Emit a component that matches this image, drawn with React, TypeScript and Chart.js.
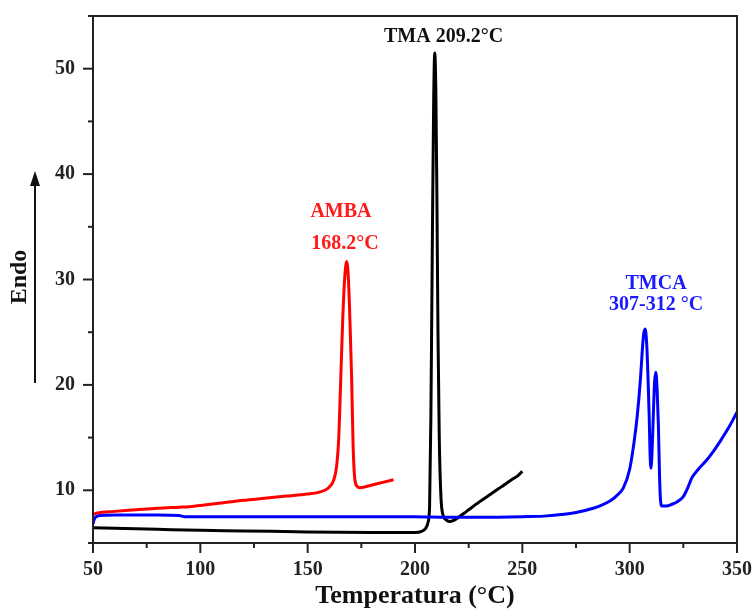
import { useEffect, useRef } from 'react';
import { Chart, registerables } from 'chart.js';

Chart.register(...registerables);

// TMA (black)
const tmaT = [50, 60, 80, 100, 120, 150, 180, 200, 203, 205, 206, 206.8, 207.4, 208.1, 208.7, 209.2, 209.7, 210.2, 210.7, 211.3, 212.1, 213, 214.5, 216, 218, 220, 224, 230, 235, 240, 245, 248, 250];
const tmaV = [6.45, 6.4, 6.3, 6.2, 6.15, 6.05, 6.0, 6.0, 6.1, 6.4, 6.9, 8.5, 17, 34, 47, 51.5, 48, 38, 25, 15, 9.3, 7.7, 7.2, 7.05, 7.15, 7.4, 8.0, 8.9, 9.6, 10.3, 11.0, 11.4, 11.8];

// AMBA (red)
const ambaT = [50, 52, 60, 70, 80, 90, 95, 100, 110, 120, 130, 140, 150, 155, 158, 160, 162, 163.5, 164.5, 165.4, 166.3, 167.2, 168.2, 168.7, 169.4, 170, 170.5, 171.2, 172, 173, 174.3, 180, 185, 190];
const ambaV = [7.7, 7.85, 8.0, 8.15, 8.3, 8.4, 8.45, 8.55, 8.8, 9.05, 9.25, 9.45, 9.65, 9.8, 10.0, 10.3, 10.9, 12.3, 15, 20.5, 26, 30, 31.7, 31, 28, 24, 20.5, 14, 11, 10.4, 10.25, 10.5, 10.75, 11.0];

// TMCA (blue)
const tmcaT = [50, 50.5, 51.5, 53, 60, 80, 90, 93, 100, 150, 200, 215, 230, 250, 260, 268, 275, 283, 287, 291, 294, 297, 300, 302, 303.5, 305, 305.8, 306.5, 307.2, 307.9, 308.5, 309.1, 309.5, 309.9, 310.4, 311, 311.6, 312.2, 312.8, 313.4, 313.9, 314.3, 315, 317, 320, 322, 325, 327, 329, 332, 336, 339, 342, 346, 350];
const tmcaV = [6.8, 7.2, 7.5, 7.6, 7.65, 7.65, 7.6, 7.5, 7.5, 7.5, 7.5, 7.45, 7.45, 7.5, 7.55, 7.7, 7.9, 8.3, 8.6, 9.0, 9.5, 10.2, 12, 14.5, 17, 20.5, 23, 24.8, 25.3, 24, 21, 17, 13.5, 12.1, 13.5, 17, 20.3, 21.2, 19.5, 16, 11.5, 9.3, 8.5, 8.5, 8.7, 8.9, 9.4, 10.2, 11.2, 12, 12.9, 13.7, 14.6, 15.9, 17.4];

const xLabelTicks = [50, 100, 150, 200, 250, 300, 350];
const yLabelTicks = [10, 20, 30, 40, 50];

const annotations = [
  { text: 'TMA 209.2°C', x: 213.3, y: 53.0, color: '#111111' },
  { text: 'AMBA', x: 165.5, y: 36.4, color: '#ff1a1a' },
  { text: '168.2°C', x: 167.4, y: 33.4, color: '#ff1a1a' },
  { text: 'TMCA', x: 312.3, y: 29.6, color: '#1a1aff' },
  { text: '307-312 °C', x: 312.3, y: 27.6, color: '#1a1aff' },
];

const FONT = "'Liberation Serif', 'Times New Roman', serif";

const pts = (xs: number[], ys: number[]) => xs.map((x, i) => ({ x, y: ys[i] }));

const decorPlugin = {
  id: 'decor',
  afterDraw(chart: any) {
    const { ctx, chartArea: a, scales } = chart;
    const xs = scales.x;
    const ys = scales.y;
    ctx.save();
    ctx.textAlign = 'center';
    ctx.textBaseline = 'middle';
    ctx.font = `bold 20px ${FONT}`;
    for (const an of annotations) {
      ctx.fillStyle = an.color;
      ctx.fillText(an.text, xs.getPixelForValue(an.x), ys.getPixelForValue(an.y));
    }
    ctx.strokeStyle = '#222';
    ctx.lineWidth = 2;
    ctx.strokeRect(a.left, a.top, a.right - a.left, a.bottom - a.top);
    for (let v = 50; v <= 350; v += 25) {
      const px = xs.getPixelForValue(v);
      const len = xLabelTicks.includes(v) ? 10 : 5;
      ctx.beginPath();
      ctx.moveTo(px, a.bottom);
      ctx.lineTo(px, a.bottom + len);
      ctx.stroke();
    }
    for (let v = 5; v <= 55; v += 5) {
      const py = ys.getPixelForValue(v);
      const len = yLabelTicks.includes(v) ? 10 : 5;
      ctx.beginPath();
      ctx.moveTo(a.left, py);
      ctx.lineTo(a.left - len, py);
      ctx.stroke();
    }
    ctx.fillStyle = '#111';
    ctx.font = `bold 26px ${FONT}`;
    ctx.textAlign = 'center';
    ctx.textBaseline = 'middle';
    ctx.fillText('Temperatura (°C)', (a.left + a.right) / 2, 596);
    ctx.save();
    ctx.translate(20, 277);
    ctx.rotate(-Math.PI / 2);
    ctx.font = `bold 24px ${FONT}`;
    ctx.fillText('Endo', 0, 0);
    ctx.restore();
    ctx.strokeStyle = '#111';
    ctx.fillStyle = '#111';
    ctx.lineWidth = 2;
    ctx.beginPath();
    ctx.moveTo(35, 383);
    ctx.lineTo(35, 182);
    ctx.stroke();
    ctx.beginPath();
    ctx.moveTo(35, 171);
    ctx.lineTo(30, 186);
    ctx.lineTo(40, 186);
    ctx.closePath();
    ctx.fill();
    ctx.restore();
  },
};

export default function App() {
  const ref = useRef<HTMLCanvasElement>(null);
  useEffect(() => {
    document.body.style.margin = '0';
    const c = new Chart(ref.current!, {
      type: 'scatter',
      data: {
        datasets: [
          { label: 'TMCA', data: pts(tmcaT, tmcaV), borderColor: '#0000ff', showLine: true, borderWidth: 3, pointRadius: 0, cubicInterpolationMode: 'monotone' },
          { label: 'TMA', data: pts(tmaT, tmaV), borderColor: '#000000', showLine: true, borderWidth: 3, pointRadius: 0, cubicInterpolationMode: 'monotone' },
          { label: 'AMBA', data: pts(ambaT, ambaV), borderColor: '#ff0000', showLine: true, borderWidth: 3, pointRadius: 0, cubicInterpolationMode: 'monotone' },
        ],
      },
      options: {
        animation: false,
        responsive: false,
        devicePixelRatio: 1,
        layout: { padding: { top: 16, right: 16, left: 0, bottom: 0 } },
        plugins: { legend: { display: false }, tooltip: { enabled: false } },
        scales: {
          x: {
            type: 'linear',
            min: 50,
            max: 350,
            grid: { display: false, drawTicks: false },
            border: { display: false },
            afterFit: (s: any) => { s.height = 67; s.paddingLeft = 0; s.paddingRight = 0; },
            ticks: {
              stepSize: 25,
              autoSkip: false,
              maxRotation: 0,
              padding: 15,
              color: '#222',
              font: { family: FONT, size: 20, weight: 'bold' },
              callback: (v: any) => (xLabelTicks.includes(Number(v)) ? String(v) : ''),
            },
          },
          y: {
            type: 'linear',
            min: 5,
            max: 55,
            grid: { display: false, drawTicks: false },
            border: { display: false },
            afterFit: (s: any) => { s.width = 93; s.paddingTop = 0; s.paddingBottom = 0; },
            ticks: {
              stepSize: 5,
              autoSkip: false,
              padding: 18,
              color: '#222',
              font: { family: FONT, size: 20, weight: 'bold' },
              callback: (v: any) => (yLabelTicks.includes(Number(v)) ? String(v) : ''),
            },
          },
        },
      },
      plugins: [decorPlugin],
    } as any);
    return () => c.destroy();
  }, []);
  return (
    <div style={{ width: 753, height: 610 }}>
      <canvas ref={ref} width={753} height={610} />
    </div>
  );
}
